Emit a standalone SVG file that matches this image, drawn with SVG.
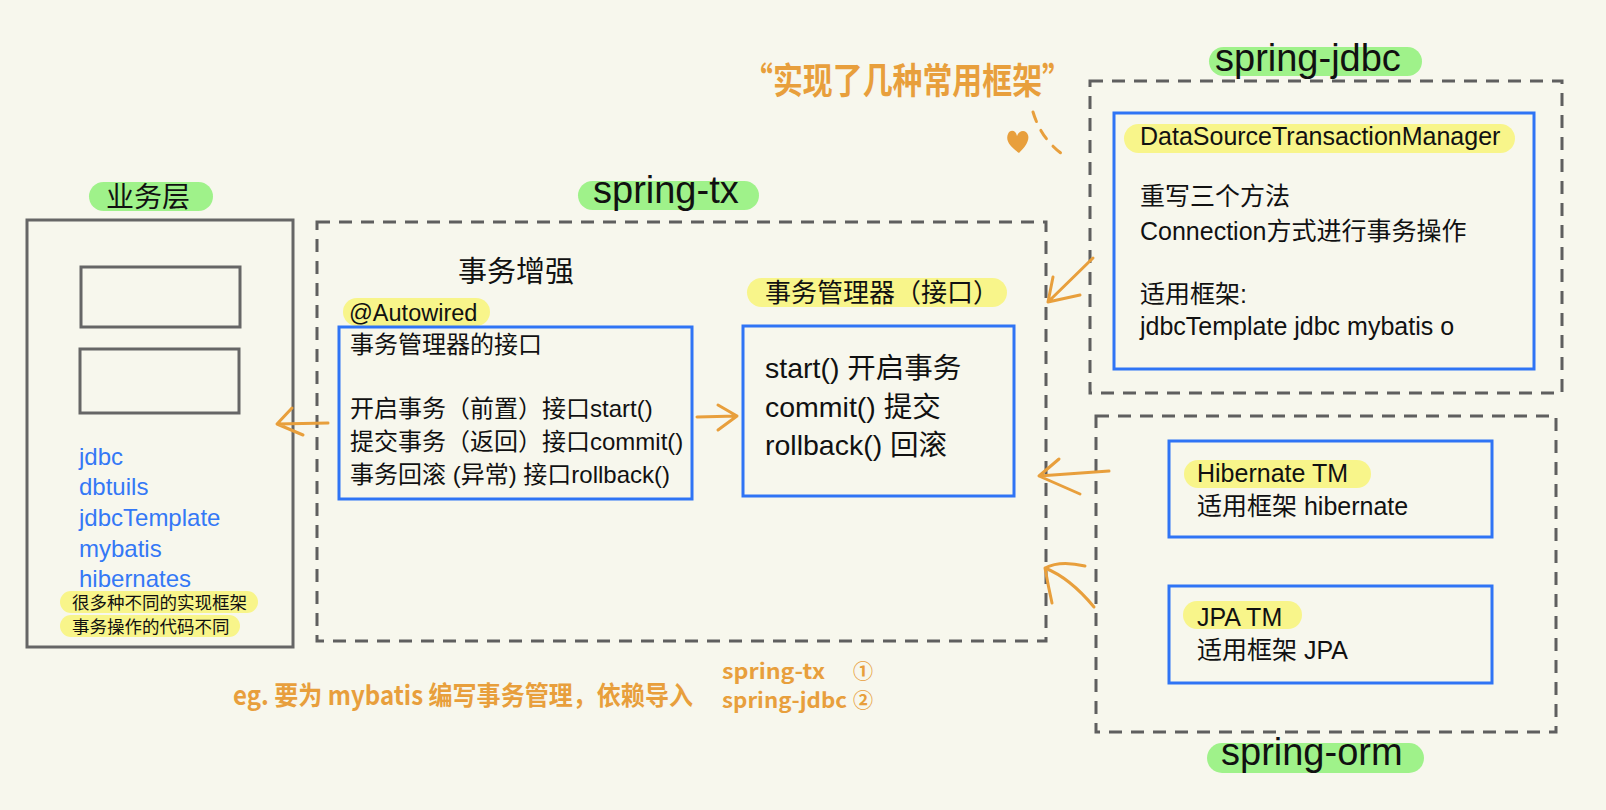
<svg xmlns="http://www.w3.org/2000/svg" width="1606" height="810" viewBox="0 0 1606 810">
<defs>
<style>
.t{font-family:"Liberation Sans","Noto Sans CJK SC",sans-serif;fill:#111}
.blue{font-family:"Liberation Sans","Noto Sans CJK SC",sans-serif;fill:#3478f6;font-size:24px}
.hand{font-family:"Noto Sans CJK SC","Liberation Sans",sans-serif;fill:#e89f3c;font-weight:bold}
.dash{fill:none;stroke:#5f5f5f;stroke-width:3;stroke-dasharray:13 9}
.bbox{fill:none;stroke:#2f74f5;stroke-width:3}
.gbox{fill:none;stroke:#666;stroke-width:3}
.green{fill:#9ff28a}
.yellow{fill:#f8f58a}
.arr{fill:none;stroke:#e89f3c;stroke-width:3;stroke-linecap:round;stroke-linejoin:round}
</style>
</defs>
<rect width="1606" height="810" fill="#f7f7ed"/>

<g id="business">
<rect class="gbox" x="27" y="220" width="266" height="427"/>
<rect class="green" x="89" y="182" width="124" height="29" rx="14.5"/>
<text class="t" x="106" y="207" font-size="28">业务层</text>
<rect class="gbox" x="81" y="267" width="159" height="60" stroke-width="2.5"/>
<rect class="gbox" x="80" y="349" width="159" height="64" stroke-width="2.5"/>
<text class="blue" x="79" y="465">jdbc</text>
<text class="blue" x="79" y="495">dbtuils</text>
<text class="blue" x="79" y="526">jdbcTemplate</text>
<text class="blue" x="79" y="557">mybatis</text>
<text class="blue" x="79" y="587">hibernates</text>
<rect class="yellow" x="60" y="591" width="198" height="22" rx="11"/>
<text class="t" x="72" y="609" font-size="17.5">很多种不同的实现框架</text>
<rect class="yellow" x="60" y="615" width="180" height="22" rx="11"/>
<text class="t" x="72" y="633" font-size="17.5">事务操作的代码不同</text>
</g>

<g id="spring-tx">
<rect class="dash" x="317" y="222" width="729" height="419"/>
<rect class="green" x="578" y="181" width="181" height="29" rx="14.5"/>
<text class="t" x="593" y="203" font-size="38">spring-tx</text>
<text class="t" x="458" y="282" font-size="29">事务增强</text>
</g>

<g id="tx-enhance">
<rect class="yellow" x="343" y="298" width="147" height="28" rx="14"/>
<text class="t" x="349" y="321" font-size="23.5">@Autowired</text>
<rect class="bbox" x="339" y="327" width="353" height="172"/>
<text class="t" x="350" y="353" font-size="24">事务管理器的接口</text>
<text class="t" x="350" y="417" font-size="24">开启事务（前置）接口start()</text>
<text class="t" x="350" y="450" font-size="24">提交事务（返回）接口commit()</text>
<text class="t" x="350" y="483" font-size="24">事务回滚 (异常) 接口rollback()</text>
</g>

<g id="tx-manager">
<rect class="yellow" x="747" y="278" width="260" height="29" rx="14.5"/>
<text class="t" x="765" y="302" font-size="26">事务管理器（接口）</text>
<rect class="bbox" x="743" y="326" width="271" height="170"/>
<text class="t" x="765" y="378" font-size="28.5">start() 开启事务</text>
<text class="t" x="765" y="417" font-size="28.5">commit() 提交</text>
<text class="t" x="765" y="455" font-size="28.5">rollback() 回滚</text>
</g>

<g id="spring-jdbc">
<rect class="dash" x="1090" y="81" width="472" height="312"/>
<rect class="green" x="1209" y="47" width="213" height="29" rx="14.5"/>
<text class="t" x="1215" y="71" font-size="38">spring-jdbc</text>
<rect class="bbox" x="1114" y="113" width="420" height="256"/>
<rect class="yellow" x="1124" y="124" width="391" height="29" rx="14.5"/>
<text class="t" x="1140" y="145" font-size="25">DataSourceTransactionManager</text>
<text class="t" x="1140" y="205" font-size="25">重写三个方法</text>
<text class="t" x="1140" y="240" font-size="25">Connection方式进行事务操作</text>
<text class="t" x="1140" y="303" font-size="25">适用框架:</text>
<text class="t" x="1140" y="335" font-size="25">jdbcTemplate jdbc mybatis o</text>
</g>

<g id="spring-orm">
<rect class="dash" x="1096" y="416" width="460" height="316"/>
<rect class="green" x="1207" y="743" width="217" height="30" rx="15"/>
<text class="t" x="1221" y="765" font-size="38">spring-orm</text>
</g>

<g id="hibernate-tm">
<rect class="bbox" x="1169" y="441" width="323" height="96"/>
<rect class="yellow" x="1184" y="460" width="187" height="28" rx="14"/>
<text class="t" x="1197" y="482" font-size="25">Hibernate TM</text>
<text class="t" x="1197" y="515" font-size="25">适用框架 hibernate</text>
</g>

<g id="jpa-tm">
<rect class="bbox" x="1169" y="586" width="323" height="97"/>
<rect class="yellow" x="1183" y="601" width="119" height="28" rx="14"/>
<text class="t" x="1197" y="626" font-size="25">JPA TM</text>
<text class="t" x="1197" y="659" font-size="25">适用框架 JPA</text>
</g>

<g id="annotation">
<text class="hand" x="743" y="94" font-size="36" textLength="329" lengthAdjust="spacingAndGlyphs">“实现了几种常用框架”</text>
<path d="M1019 153 C1011 147 1005 141 1008 134 C1010 129 1016 130 1017 136 C1019 130 1026 129 1028 135 C1030 141 1024 148 1019 153 Z" fill="#e89f3c"/>
<path d="M1033 112 Q1042 142 1068 158" fill="none" stroke="#e89f3c" stroke-width="3" stroke-linecap="round" stroke-dasharray="10 10"/>
<text class="hand" x="233" y="705" font-size="26" textLength="460" lengthAdjust="spacingAndGlyphs">eg. 要为 mybatis 编写事务管理，依赖导入</text>
<text class="hand" x="722" y="679" font-size="21" textLength="103" lengthAdjust="spacingAndGlyphs">spring-tx</text>
<text class="hand" x="853" y="679" font-size="20">①</text>
<text class="hand" x="722" y="708" font-size="21" textLength="125" lengthAdjust="spacingAndGlyphs">spring-jdbc</text>
<text class="hand" x="853" y="708" font-size="20">②</text>
</g>

<g id="connectors">
<path class="arr" d="M328 423 L277 424 M292 408 L277 424 L303 435"/>
<path class="arr" d="M697 417 L737 416 M718 405 L737 416 L718 430"/>
<path class="arr" d="M1093 258 L1048 302 M1053 277 L1048 302 L1080 295"/>
<path class="arr" d="M1109 471 L1039 476 M1059 459 L1039 476 L1080 494"/>
<path class="arr" d="M1094 607 Q1070 578 1045 568 M1085 566 Q1060 560 1045 568 Q1048 585 1052 603"/>
</g>
</svg>
